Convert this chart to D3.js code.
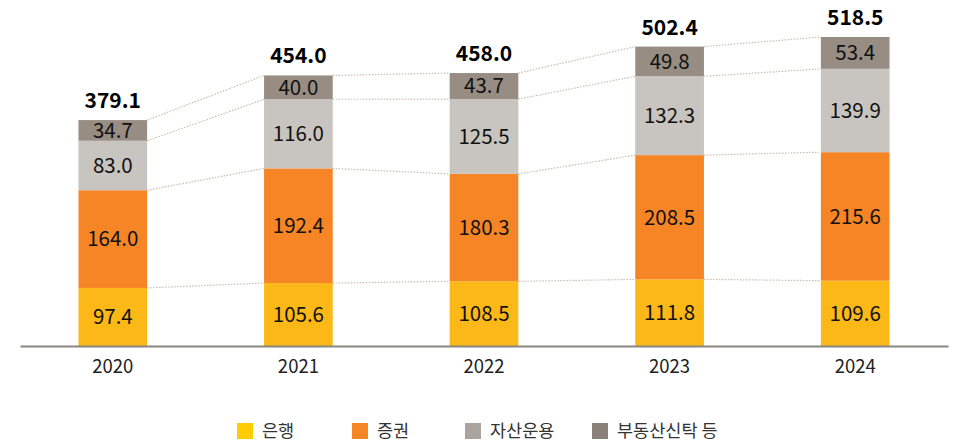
<!DOCTYPE html>
<html>
<head>
<meta charset="utf-8">
<script src="https://cdn.jsdelivr.net/npm/d3@7"></script>
<style>
  body { margin: 0; background: #fff; }
  text { font-family: "Noto Sans CJK KR", "Noto Sans", sans-serif; }
</style>
</head>
<body>
<div id="chart"></div>
<script>
const years = ['2020', '2021', '2022', '2023', '2024'];
const seriesNames = ['은행', '증권', '자산운용', '부동산신탁 등'];
const bank = [97.4, 105.6, 108.5, 111.8, 109.6];
const securities = [164.0, 192.4, 180.3, 208.5, 215.6];
const assetMgmt = [83.0, 116.0, 125.5, 132.3, 139.9];
const realEstate = [34.7, 40.0, 43.7, 49.8, 53.4];
const totals = [379.1, 454.0, 458.0, 502.4, 518.5];

const barColors = ['#fbb816', '#f58525', '#c8c4bf', '#978d83'];
const legendColors = ['#ffcc00', '#f58525', '#aba49e', '#8a8178'];

const width = 956, height = 443;
const margin = { top: 10, left: 20, right: 8, base: 346 };

const svg = d3.select("#chart")
    .append("svg")
    .attr("width", width)
    .attr("height", height);

const x = d3.scaleBand()
    .domain(years)
    .range([20, 948])
    .paddingInner(0.63)
    .paddingOuter(0.315);

const y = d3.scaleLinear()
    .domain([0, 518.5])
    .range([margin.base, 37]);

const table = years.map((yr, i) => ({
    year: yr,
    [seriesNames[0]]: bank[i],
    [seriesNames[1]]: securities[i],
    [seriesNames[2]]: assetMgmt[i],
    [seriesNames[3]]: realEstate[i]
}));

const stacked = d3.stack().keys(seriesNames)(table);

// dotted connectors between bars
stacked.forEach(layer => {
    for (let i = 0; i < years.length - 1; i++) {
        svg.append("line")
            .attr("x1", x(years[i]) + x.bandwidth())
            .attr("y1", y(layer[i][1]))
            .attr("x2", x(years[i + 1]))
            .attr("y2", y(layer[i + 1][1]))
            .attr("stroke", "#cbbcae")
            .attr("stroke-width", 1.2)
            .attr("stroke-dasharray", "1.5,1.5");
    }
});

// bars
const groups = svg.selectAll("g.layer")
    .data(stacked)
    .enter()
    .append("g")
    .attr("class", "layer")
    .attr("fill", (d, i) => barColors[i]);

groups.selectAll("rect")
    .data(d => d)
    .enter()
    .append("rect")
    .attr("x", d => x(d.data.year))
    .attr("y", d => y(d[1]))
    .attr("width", x.bandwidth())
    .attr("height", d => y(d[0]) - y(d[1]));

groups.selectAll("text")
    .data(d => d)
    .enter()
    .append("text")
    .attr("x", d => x(d.data.year) + x.bandwidth() / 2)
    .attr("y", d => (y(d[0]) + y(d[1])) / 2)
    .attr("dy", "0.36em")
    .attr("text-anchor", "middle")
    .attr("fill", "#111")
    .style("font-size", "20.5px")
    .text(d => (d[1] - d[0]).toFixed(1));

// totals
svg.selectAll("text.total")
    .data(totals)
    .enter()
    .append("text")
    .attr("class", "total")
    .attr("x", (d, i) => x(years[i]) + x.bandwidth() / 2)
    .attr("y", d => y(d) - 12)
    .attr("text-anchor", "middle")
    .attr("fill", "#000")
    .style("font-size", "21px")
    .style("font-weight", "bold")
    .text(d => d.toFixed(1));

// axis
const xAxis = svg.append("g")
    .attr("transform", `translate(0, ${margin.base})`)
    .call(d3.axisBottom(x).tickSize(0).tickPadding(14));
xAxis.select(".domain").attr("stroke", "#8a8680").attr("stroke-width", 2);
xAxis.selectAll("text")
    .style("font-size", "18.5px")
    .attr("fill", "#222");

// legend
const legendX = [237, 352, 465, 592];
const legend = svg.selectAll("g.legend")
    .data(seriesNames)
    .enter()
    .append("g")
    .attr("class", "legend")
    .attr("transform", (d, i) => `translate(${legendX[i]}, 423)`);

legend.append("rect")
    .attr("width", 16)
    .attr("height", 16)
    .attr("fill", (d, i) => legendColors[i]);

legend.append("text")
    .attr("x", 25)
    .attr("y", 8)
    .attr("dy", "0.36em")
    .attr("fill", "#333")
    .style("font-size", "17.5px")
    .text(d => d);
</script>
</body>
</html>
